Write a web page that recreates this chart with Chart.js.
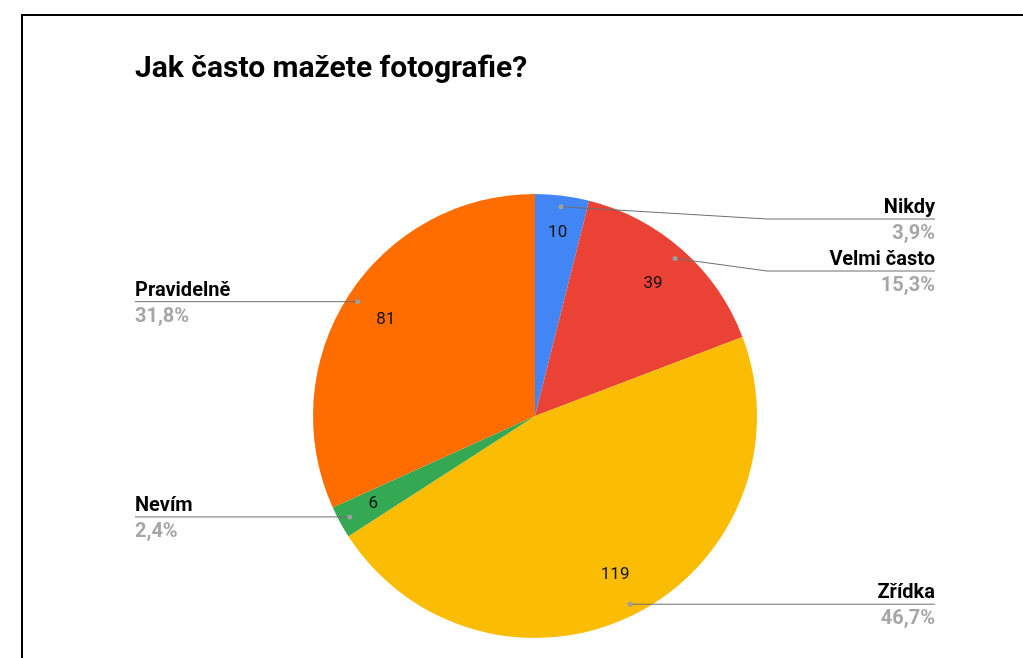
<!DOCTYPE html>
<html lang="cs">
<head>
<meta charset="utf-8">
<title>Jak často mažete fotografie?</title>
<script src="https://cdn.jsdelivr.net/npm/chart.js@4/dist/chart.umd.min.js"></script>
<style>
  html, body { margin: 0; padding: 0; background: #fff; overflow: hidden; }
  #frame {
    position: absolute; left: 21px; top: 14px;
    width: 1100px; height: 700px;
    border: 2px solid #000;
  }
  #chart { position: absolute; left: 0; top: 0; }
</style>
</head>
<body>
<div id="frame"></div>
<canvas id="chart" width="1023" height="658"></canvas>
<script>
// Answers and counts
const categories = ['Nikdy', 'Velmi často', 'Zřídka', 'Nevím', 'Pravidelně'];
const counts = [10, 39, 119, 6, 81];

const sliceColors = ['#4285f4', '#ea4335', '#fbbc04', '#34a853', '#ff6d01'];
const chartTitle = 'Jak často mažete fotografie?';

const FONT = 'Roboto, "Noto Sans", Arial, sans-serif';

function percentText(v, total) {
    return (v / total * 100).toFixed(1).replace('.', ',') + '%';
}

// Title, numbers in slices and leader-line labels
const pieLabels = {
    id: 'pieLabels',
    afterDraw(chart) {
        const ctx = chart.ctx;
        const meta = chart.getDatasetMeta(0);
        const values = chart.data.datasets[0].data;
        const total = values.reduce((a, b) => a + b, 0);

        ctx.save();
        ctx.fillStyle = '#000';
        ctx.font = 'bold 30px ' + FONT;
        ctx.textAlign = 'left';
        ctx.textBaseline = 'alphabetic';
        ctx.fillText(chartTitle, 135, 77);

        const items = meta.data.map((arc, i) => {
            const mid = (arc.startAngle + arc.endAngle) / 2;
            const r = arc.outerRadius;
            return {
                i, arc, mid,
                dotX: arc.x + Math.cos(mid) * r * 0.95,
                dotY: arc.y + Math.sin(mid) * r * 0.95,
                side: Math.cos(mid) >= 0 ? 'right' : 'left'
            };
        });

        // counts inside the slices (thin slices get them a bit further out)
        ctx.font = '17px ' + FONT;
        ctx.fillStyle = '#111';
        ctx.textAlign = 'center';
        ctx.textBaseline = 'middle';
        items.forEach(it => {
            const thin = values[it.i] / total < 0.05;
            const r = it.arc.outerRadius * (thin ? 0.83 : 0.8);
            ctx.fillText(String(values[it.i]), it.arc.x + Math.cos(it.mid) * r, it.arc.y + Math.sin(it.mid) * r);
        });

        // stack labels on each side so they do not collide
        ['right', 'left'].forEach(side => {
            const list = items.filter(it => it.side === side).sort((a, b) => a.dotY - b.dotY);
            let prev = -Infinity;
            list.forEach(it => {
                it.lineY = Math.max(it.dotY, prev + 52, 219);
                prev = it.lineY;
            });
        });

        items.forEach(it => {
            const arc = it.arc;
            const right = it.side === 'right';
            const textX = right ? 935 : 135;
            const elbowX = right ? arc.x + arc.outerRadius + 10 : arc.x - arc.outerRadius - 10;

            ctx.strokeStyle = '#6f6f6f';
            ctx.lineWidth = 1;
            ctx.beginPath();
            ctx.moveTo(it.dotX, it.dotY);
            if (Math.abs(it.lineY - it.dotY) > 0.5) {
                ctx.lineTo(elbowX, it.lineY);
            } else {
                ctx.lineTo(it.dotX, it.lineY);
            }
            ctx.lineTo(textX, it.lineY);
            ctx.stroke();

            ctx.fillStyle = '#9e9e9e';
            ctx.beginPath();
            ctx.arc(it.dotX, it.dotY, 2.5, 0, Math.PI * 2);
            ctx.fill();

            ctx.textAlign = right ? 'right' : 'left';
            ctx.textBaseline = 'alphabetic';
            ctx.font = 'bold 20px ' + FONT;
            ctx.fillStyle = '#000';
            ctx.fillText(chart.data.labels[it.i], textX, it.lineY - 6);
            ctx.fillStyle = '#a6a6a6';
            ctx.fillText(percentText(values[it.i], total), textX, it.lineY + 20);
        });
        ctx.restore();
    }
};

const ctx = document.getElementById('chart').getContext('2d');
const chart = new Chart(ctx, {
    type: 'pie',
    data: {
        labels: categories,
        datasets: [{
            data: counts,
            backgroundColor: sliceColors,
            borderWidth: 0
        }]
    },
    options: {
        responsive: false,
        animation: false,
        events: [],
        layout: {
            padding: { left: 313, right: 266, top: 194, bottom: 20 }
        },
        plugins: {
            legend: { display: false },
            tooltip: { enabled: false },
            title: { display: false }
        }
    },
    plugins: [pieLabels]
});
</script>
</body>
</html>
